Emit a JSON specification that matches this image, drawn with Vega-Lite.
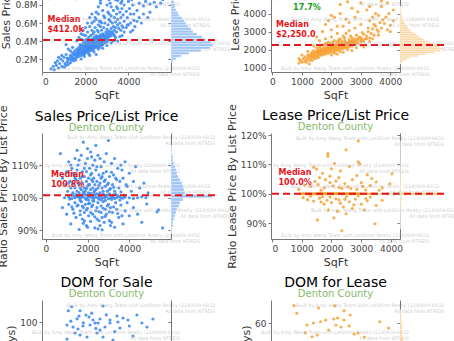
{
"$schema":"https://vega.github.io/schema/vega-lite/v6.json",
"autosize":{"type":"none"},
"padding":{"left":42,"top":-34,"right":412,"bottom":375},
"background":"white",
"config":{"font":"DejaVu Sans","view":{"stroke":null},
"axis":{"labelFont":"DejaVu Sans","labelFontSize":9,"labelColor":"#444","titleFont":"DejaVu Sans","titleFontSize":11,"titleFontWeight":"normal","titleColor":"#333","domainColor":"#777","tickColor":"#777","tickSize":3,"grid":false,"labelPadding":2,"titlePadding":3,"labelOverlap":false,"tickCount":20},
"title":{"font":"DejaVu Sans","fontSize":14,"fontWeight":"normal","color":"#000","subtitleFont":"DejaVu Sans","subtitleFontSize":10,"subtitleColor":"#86b86b","subtitlePadding":-1,"anchor":"middle","frame":"group"}},
"datasets":{
"sale":[{"s":1000,"p":0.11},{"s":1050,"p":0.15},{"s":1100,"p":0.13},{"s":1150,"p":0.17},{"s":1200,"p":0.19},{"s":1200,"p":0.14},{"s":1250,"p":0.21},{"s":1300,"p":0.16},{"s":1300,"p":0.24},{"s":1350,"p":0.19},{"s":1400,"p":0.22},{"s":1400,"p":0.27},{"s":1450,"p":0.18},{"s":1450,"p":0.25},{"s":1500,"p":0.21},{"s":1500,"p":0.29},{"s":1550,"p":0.24},{"s":1550,"p":0.19},{"s":1600,"p":0.27},{"s":1600,"p":0.31},{"s":1600,"p":0.22},{"s":1650,"p":0.25},{"s":1650,"p":0.29},{"s":1700,"p":0.23},{"s":1700,"p":0.27},{"s":1700,"p":0.33},{"s":1750,"p":0.26},{"s":1750,"p":0.3},{"s":1750,"p":0.36},{"s":1800,"p":0.24},{"s":1800,"p":0.28},{"s":1800,"p":0.32},{"s":1850,"p":0.27},{"s":1850,"p":0.31},{"s":1850,"p":0.35},{"s":1900,"p":0.25},{"s":1900,"p":0.29},{"s":1900,"p":0.33},{"s":1900,"p":0.38},{"s":1950,"p":0.28},{"s":1950,"p":0.31},{"s":1950,"p":0.35},{"s":2000,"p":0.27},{"s":2000,"p":0.3},{"s":2000,"p":0.34},{"s":2000,"p":0.39},{"s":2050,"p":0.29},{"s":2050,"p":0.33},{"s":2050,"p":0.37},{"s":2050,"p":0.42},{"s":2100,"p":0.28},{"s":2100,"p":0.31},{"s":2100,"p":0.35},{"s":2100,"p":0.4},{"s":2150,"p":0.3},{"s":2150,"p":0.34},{"s":2150,"p":0.38},{"s":2150,"p":0.44},{"s":2200,"p":0.29},{"s":2200,"p":0.33},{"s":2200,"p":0.36},{"s":2200,"p":0.41},{"s":2250,"p":0.31},{"s":2250,"p":0.35},{"s":2250,"p":0.39},{"s":2250,"p":0.46},{"s":2300,"p":0.3},{"s":2300,"p":0.34},{"s":2300,"p":0.37},{"s":2300,"p":0.42},{"s":2350,"p":0.33},{"s":2350,"p":0.36},{"s":2350,"p":0.4},{"s":2350,"p":0.48},{"s":2400,"p":0.32},{"s":2400,"p":0.35},{"s":2400,"p":0.39},{"s":2400,"p":0.44},{"s":2450,"p":0.34},{"s":2450,"p":0.38},{"s":2450,"p":0.42},{"s":2500,"p":0.33},{"s":2500,"p":0.37},{"s":2500,"p":0.41},{"s":2500,"p":0.46},{"s":2550,"p":0.35},{"s":2550,"p":0.39},{"s":2550,"p":0.44},{"s":2600,"p":0.34},{"s":2600,"p":0.38},{"s":2600,"p":0.42},{"s":2600,"p":0.5},{"s":2650,"p":0.36},{"s":2650,"p":0.4},{"s":2650,"p":0.45},{"s":2700,"p":0.37},{"s":2700,"p":0.41},{"s":2700,"p":0.47},{"s":2750,"p":0.39},{"s":2750,"p":0.43},{"s":2750,"p":0.52},{"s":2800,"p":0.38},{"s":2800,"p":0.42},{"s":2800,"p":0.48},{"s":2850,"p":0.4},{"s":2850,"p":0.45},{"s":2850,"p":0.55},{"s":2900,"p":0.41},{"s":2900,"p":0.47},{"s":2950,"p":0.43},{"s":2950,"p":0.5},{"s":3000,"p":0.42},{"s":3000,"p":0.46},{"s":3000,"p":0.53},{"s":3050,"p":0.44},{"s":3050,"p":0.58},{"s":3100,"p":0.45},{"s":3100,"p":0.51},{"s":3150,"p":0.48},{"s":3150,"p":0.62},{"s":3200,"p":0.46},{"s":3200,"p":0.54},{"s":3250,"p":0.5},{"s":3250,"p":0.6},{"s":3300,"p":0.48},{"s":3300,"p":0.56},{"s":3350,"p":0.52},{"s":3350,"p":0.66},{"s":3400,"p":0.55},{"s":3400,"p":0.61},{"s":3450,"p":0.5},{"s":3450,"p":0.7},{"s":3500,"p":0.58},{"s":3500,"p":0.64},{"s":3550,"p":0.54},{"s":3600,"p":0.6},{"s":3600,"p":0.72},{"s":3650,"p":0.66},{"s":3700,"p":0.57},{"s":3700,"p":0.76},{"s":3750,"p":0.69},{"s":3800,"p":0.62},{"s":3800,"p":0.8},{"s":3900,"p":0.73},{"s":3950,"p":0.66},{"s":4000,"p":0.84},{"s":4050,"p":0.76},{"s":4100,"p":0.7},{"s":4200,"p":0.8},{"s":4250,"p":0.63},{"s":4300,"p":0.88},{"s":4400,"p":0.74},{"s":4500,"p":0.82},{"s":4600,"p":0.95},{"s":4700,"p":0.79},{"s":4800,"p":0.84},{"s":5000,"p":0.81},{"s":5200,"p":0.83},{"s":5100,"p":0.98},{"s":3900,"p":0.92},{"s":3500,"p":0.85},{"s":3200,"p":0.78},{"s":2900,"p":0.66},{"s":2600,"p":0.58},{"s":2300,"p":0.52},{"s":1200,"p":0.31},{"s":900,"p":0.24},{"s":1100,"p":0.36},{"s":2500,"p":0.25},{"s":2800,"p":0.32},{"s":3300,"p":0.4},{"s":3600,"p":0.45},{"s":4200,"p":0.52},{"s":4600,"p":0.6},{"s":1900,"p":0.47},{"s":1600,"p":0.4},{"s":1400,"p":0.33},{"s":2700,"p":0.62},{"s":3100,"p":0.7},{"s":4900,"p":0.66},{"s":3000,"p":0.35},{"s":2200,"p":0.24},{"s":1800,"p":0.2},{"s":1300,"p":0.29},{"s":4100,"p":0.6},{"s":3750,"p":0.55},{"s":2450,"p":0.55},{"s":2150,"p":0.26},{"s":1950,"p":0.23},{"s":1800,"p":0.42},{"s":2000,"p":0.46},{"s":2100,"p":0.5},{"s":2200,"p":0.56},{"s":2300,"p":0.6},{"s":2400,"p":0.5},{"s":2500,"p":0.64},{"s":2600,"p":0.7},{"s":2700,"p":0.56},{"s":2800,"p":0.74},{"s":2900,"p":0.6},{"s":3000,"p":0.8},{"s":3100,"p":0.64},{"s":3200,"p":0.68},{"s":3300,"p":0.74},{"s":3400,"p":0.86},{"s":3500,"p":0.76},{"s":3700,"p":0.84},{"s":3000,"p":0.9},{"s":3300,"p":0.95},{"s":2700,"p":0.85},{"s":4000,"p":0.95},{"s":4400,"p":0.9},{"s":4800,"p":0.98},{"s":3200,"p":0.38},{"s":3400,"p":0.44},{"s":3500,"p":0.4},{"s":3700,"p":0.46},{"s":3800,"p":0.5},{"s":3900,"p":0.55},{"s":4000,"p":0.58},{"s":4100,"p":0.5},{"s":4300,"p":0.56},{"s":4400,"p":0.62},{"s":4500,"p":0.66},{"s":4700,"p":0.7},{"s":5000,"p":0.72},{"s":5300,"p":0.78},{"s":5500,"p":0.82},{"s":3000,"p":0.39},{"s":2800,"p":0.36},{"s":2600,"p":0.31},{"s":2400,"p":0.28},{"s":2900,"p":0.38},{"s":650,"p":0.13},{"s":700,"p":0.18},{"s":750,"p":0.1},{"s":800,"p":0.15},{"s":850,"p":0.2},{"s":900,"p":0.12},{"s":950,"p":0.18},{"s":1000,"p":0.22},{"s":1100,"p":0.25},{"s":1150,"p":0.21},{"s":1800,"p":0.35},{"s":1900,"p":0.41},{"s":2000,"p":0.36},{"s":2100,"p":0.37},{"s":2200,"p":0.38},{"s":2300,"p":0.39},{"s":2400,"p":0.41},{"s":2500,"p":0.43},{"s":2600,"p":0.45},{"s":2700,"p":0.44},{"s":2800,"p":0.46},{"s":2900,"p":0.44},{"s":3000,"p":0.49},{"s":3100,"p":0.48},{"s":3200,"p":0.5},{"s":1700,"p":0.3},{"s":1600,"p":0.25},{"s":1500,"p":0.26},{"s":1400,"p":0.2},{"s":1350,"p":0.23},{"s":2650,"p":0.33},{"s":2350,"p":0.3},{"s":2150,"p":0.32},{"s":1950,"p":0.26},{"s":2750,"p":0.35},{"s":3050,"p":0.41},{"s":3350,"p":0.46},{"s":3650,"p":0.52},{"s":3950,"p":0.58},{"s":4250,"p":0.7},{"s":2400,"p":0.62},{"s":2500,"p":0.72},{"s":2600,"p":0.78},{"s":2700,"p":0.82},{"s":2800,"p":0.88},{"s":2900,"p":0.92},{"s":3100,"p":0.86},{"s":3200,"p":0.92},{"s":3300,"p":0.88},{"s":3400,"p":0.98},{"s":3600,"p":0.95},{"s":3800,"p":0.9},{"s":2200,"p":0.66},{"s":2300,"p":0.7},{"s":2100,"p":0.6},{"s":2000,"p":0.55},{"s":1900,"p":0.52},{"s":1800,"p":0.48},{"s":1700,"p":0.44},{"s":2450,"p":0.66},{"s":2650,"p":0.62},{"s":2850,"p":0.68},{"s":3050,"p":0.72},{"s":2550,"p":0.52},{"s":2750,"p":0.6},{"s":400,"p":0.09},{"s":500,"p":0.12},{"s":600,"p":0.16},{"s":550,"p":0.08},{"s":750,"p":0.22},{"s":3150,"p":0.82},{"s":3450,"p":0.78},{"s":3650,"p":0.82},{"s":4150,"p":0.86},{"s":4450,"p":0.96},{"s":5400,"p":0.9},{"s":5600,"p":0.86},{"s":5000,"p":0.9}],
"lease":[{"s":900,"l":1250},{"s":950,"l":1400},{"s":1000,"l":1300},{"s":1050,"l":1500},{"s":1100,"l":1350},{"s":1100,"l":1600},{"s":1150,"l":1450},{"s":1200,"l":1550},{"s":1200,"l":1700},{"s":1250,"l":1400},{"s":1250,"l":1650},{"s":1300,"l":1500},{"s":1300,"l":1750},{"s":1350,"l":1600},{"s":1350,"l":1850},{"s":1400,"l":1550},{"s":1400,"l":1700},{"s":1400,"l":1950},{"s":1450,"l":1650},{"s":1450,"l":1800},{"s":1500,"l":1600},{"s":1500,"l":1750},{"s":1500,"l":1900},{"s":1500,"l":2100},{"s":1550,"l":1700},{"s":1550,"l":1850},{"s":1550,"l":2000},{"s":1600,"l":1650},{"s":1600,"l":1800},{"s":1600,"l":1950},{"s":1600,"l":2150},{"s":1650,"l":1750},{"s":1650,"l":1900},{"s":1650,"l":2050},{"s":1700,"l":1700},{"s":1700,"l":1850},{"s":1700,"l":2000},{"s":1700,"l":2250},{"s":1750,"l":1800},{"s":1750,"l":1950},{"s":1750,"l":2100},{"s":1800,"l":1750},{"s":1800,"l":1900},{"s":1800,"l":2050},{"s":1800,"l":2300},{"s":1850,"l":1850},{"s":1850,"l":2000},{"s":1850,"l":2150},{"s":1900,"l":1800},{"s":1900,"l":1950},{"s":1900,"l":2100},{"s":1900,"l":2400},{"s":1950,"l":1900},{"s":1950,"l":2050},{"s":1950,"l":2200},{"s":2000,"l":1850},{"s":2000,"l":2000},{"s":2000,"l":2150},{"s":2000,"l":2350},{"s":2050,"l":1950},{"s":2050,"l":2100},{"s":2050,"l":2250},{"s":2100,"l":1900},{"s":2100,"l":2050},{"s":2100,"l":2200},{"s":2100,"l":2500},{"s":2150,"l":2000},{"s":2150,"l":2150},{"s":2150,"l":2300},{"s":2200,"l":1950},{"s":2200,"l":2100},{"s":2200,"l":2250},{"s":2200,"l":2450},{"s":2250,"l":2050},{"s":2250,"l":2200},{"s":2250,"l":2400},{"s":2300,"l":2000},{"s":2300,"l":2150},{"s":2300,"l":2300},{"s":2300,"l":2600},{"s":2350,"l":2100},{"s":2350,"l":2250},{"s":2350,"l":2450},{"s":2400,"l":2050},{"s":2400,"l":2200},{"s":2400,"l":2350},{"s":2400,"l":2750},{"s":2450,"l":2150},{"s":2450,"l":2300},{"s":2450,"l":2500},{"s":2500,"l":2100},{"s":2500,"l":2250},{"s":2500,"l":2400},{"s":2500,"l":2900},{"s":2550,"l":2200},{"s":2550,"l":2350},{"s":2600,"l":2150},{"s":2600,"l":2300},{"s":2600,"l":2550},{"s":2650,"l":2250},{"s":2650,"l":2450},{"s":2700,"l":2200},{"s":2700,"l":2400},{"s":2700,"l":2650},{"s":2750,"l":2350},{"s":2750,"l":2500},{"s":2800,"l":2300},{"s":2800,"l":2600},{"s":2850,"l":2450},{"s":2900,"l":2350},{"s":2900,"l":2550},{"s":2950,"l":2700},{"s":3000,"l":2450},{"s":3000,"l":2650},{"s":3050,"l":2550},{"s":3100,"l":2850},{"s":3150,"l":2600},{"s":3200,"l":2750},{"s":3250,"l":3000},{"s":3300,"l":2650},{"s":3350,"l":2900},{"s":3400,"l":3150},{"s":3450,"l":2800},{"s":3500,"l":3300},{"s":3600,"l":3000},{"s":3650,"l":3500},{"s":3700,"l":3200},{"s":3800,"l":3450},{"s":3850,"l":3800},{"s":3900,"l":3100},{"s":4000,"l":3350},{"s":4100,"l":3600},{"s":3600,"l":3900},{"s":3300,"l":3600},{"s":3000,"l":3400},{"s":2800,"l":3200},{"s":2600,"l":3050},{"s":2400,"l":3300},{"s":2200,"l":2900},{"s":2000,"l":2700},{"s":1800,"l":2600},{"s":1600,"l":2500},{"s":2500,"l":3700},{"s":2900,"l":4100},{"s":3300,"l":4400},{"s":2550,"l":4650},{"s":2100,"l":3800},{"s":1900,"l":3600},{"s":2300,"l":4000},{"s":3700,"l":4700},{"s":3100,"l":4900},{"s":2750,"l":5200},{"s":3500,"l":4000},{"s":3400,"l":3800},{"s":2000,"l":1700},{"s":2200,"l":1750},{"s":2400,"l":1850},{"s":2700,"l":1950},{"s":3100,"l":2150},{"s":1200,"l":1900},{"s":1000,"l":1700},{"s":1400,"l":2200},{"s":3300,"l":2450},{"s":1300,"l":1650},{"s":1400,"l":1800},{"s":1500,"l":1850},{"s":1600,"l":1900},{"s":1700,"l":1950},{"s":1800,"l":2000},{"s":1900,"l":2050},{"s":2000,"l":2100},{"s":2100,"l":2150},{"s":2200,"l":2200},{"s":2300,"l":2250},{"s":2400,"l":2300},{"s":2500,"l":2350},{"s":2600,"l":2400},{"s":2700,"l":2500},{"s":2800,"l":2450},{"s":2900,"l":2600},{"s":3000,"l":2550},{"s":3100,"l":2450},{"s":3200,"l":2600},{"s":1600,"l":1850},{"s":1750,"l":2250},{"s":1850,"l":2350},{"s":2050,"l":2400},{"s":2250,"l":2550},{"s":2450,"l":2650},{"s":2650,"l":2750},{"s":2850,"l":2800},{"s":3050,"l":2950},{"s":3250,"l":3200},{"s":3450,"l":3400},{"s":3550,"l":3100},{"s":3750,"l":3650},{"s":3950,"l":4000},{"s":2000,"l":3100},{"s":2200,"l":3300},{"s":2600,"l":3500},{"s":2800,"l":3800},{"s":3200,"l":4200},{"s":3700,"l":4400},{"s":1700,"l":3000},{"s":1500,"l":2700},{"s":900,"l":1500},{"s":1150,"l":1300},{"s":1250,"l":1200},{"s":1350,"l":1400},{"s":1450,"l":1500},{"s":1550,"l":1550},{"s":2100,"l":1800},{"s":2300,"l":1900},{"s":2550,"l":2000},{"s":2850,"l":2100},{"s":3000,"l":2250},{"s":3400,"l":2600},{"s":3600,"l":2800},{"s":4000,"l":3000},{"s":1800,"l":3400},{"s":2000,"l":3900},{"s":2300,"l":4500},{"s":2700,"l":4300},{"s":3000,"l":4600},{"s":3400,"l":5000},{"s":3900,"l":4600},{"s":4100,"l":4200},{"s":2400,"l":5500},{"s":2900,"l":5800}],
"saleRatio":[{"s":900,"r":100},{"s":1100,"r":100.2},{"s":1250,"r":99.8},{"s":1400,"r":100},{"s":1500,"r":100.5},{"s":1600,"r":99.9},{"s":1700,"r":100},{"s":1800,"r":100.3},{"s":1900,"r":99.7},{"s":2000,"r":100},{"s":2100,"r":100.4},{"s":2200,"r":100},{"s":2300,"r":99.8},{"s":2400,"r":100.2},{"s":2500,"r":100},{"s":2600,"r":100.5},{"s":2700,"r":99.9},{"s":2800,"r":100},{"s":2900,"r":100.3},{"s":3000,"r":99.7},{"s":3100,"r":100},{"s":3200,"r":100.2},{"s":3300,"r":99.8},{"s":3400,"r":100},{"s":3500,"r":100.4},{"s":3600,"r":100},{"s":3700,"r":99.9},{"s":3800,"r":100.2},{"s":4000,"r":100},{"s":4200,"r":99.8},{"s":4400,"r":100},{"s":4600,"r":100.3},{"s":1350,"r":100.6},{"s":1650,"r":100.7},{"s":1950,"r":99.5},{"s":2250,"r":100.7},{"s":2550,"r":99.6},{"s":2850,"r":100.7},{"s":3150,"r":99.5},{"s":3450,"r":100.6},{"s":1150,"r":99.6},{"s":4800,"r":100},{"s":700,"r":113.5},{"s":800,"r":106},{"s":950,"r":104},{"s":1000,"r":108},{"s":1050,"r":102},{"s":1100,"r":111},{"s":1150,"r":105},{"s":1200,"r":103},{"s":1250,"r":109},{"s":1300,"r":104.3},{"s":1300,"r":101.5},{"s":1350,"r":107},{"s":1400,"r":112},{"s":1400,"r":103},{"s":1450,"r":105.5},{"s":1500,"r":102},{"s":1500,"r":108.5},{"s":1550,"r":110},{"s":1600,"r":104},{"s":1600,"r":101.5},{"s":1650,"r":106},{"s":1700,"r":113},{"s":1700,"r":102.5},{"s":1750,"r":108},{"s":1750,"r":104.5},{"s":1800,"r":117},{"s":1800,"r":101.8},{"s":1850,"r":106.5},{"s":1850,"r":103},{"s":1900,"r":110.5},{"s":1900,"r":102},{"s":1950,"r":105},{"s":1950,"r":108},{"s":2000,"r":103.5},{"s":2000,"r":112},{"s":2050,"r":101.5},{"s":2050,"r":106},{"s":2100,"r":104},{"s":2100,"r":109},{"s":2150,"r":102.5},{"s":2150,"r":114},{"s":2200,"r":105.5},{"s":2200,"r":107.5},{"s":2250,"r":103},{"s":2250,"r":110},{"s":2300,"r":101.7},{"s":2300,"r":106},{"s":2350,"r":104},{"s":2350,"r":111.5},{"s":2400,"r":102.5},{"s":2400,"r":108.5},{"s":2450,"r":105},{"s":2500,"r":103},{"s":2500,"r":113},{"s":2550,"r":107},{"s":2600,"r":101.5},{"s":2600,"r":104.5},{"s":2650,"r":109.5},{"s":2700,"r":103},{"s":2700,"r":106.5},{"s":2750,"r":102},{"s":2800,"r":111},{"s":2800,"r":105},{"s":2850,"r":103.5},{"s":2900,"r":108},{"s":2950,"r":102},{"s":3000,"r":117.5},{"s":3000,"r":104.5},{"s":3050,"r":106.5},{"s":3100,"r":102.8},{"s":3150,"r":110.5},{"s":3200,"r":104},{"s":3250,"r":107},{"s":3300,"r":102},{"s":3400,"r":105.5},{"s":3450,"r":109},{"s":3500,"r":103},{"s":3600,"r":101.8},{"s":3700,"r":106},{"s":3800,"r":111},{"s":3900,"r":103.5},{"s":4000,"r":107.5},{"s":4100,"r":102},{"s":4200,"r":105},{"s":4300,"r":109.5},{"s":4500,"r":103},{"s":4700,"r":104.5},{"s":4900,"r":101.5},{"s":800,"r":97},{"s":1000,"r":95},{"s":1100,"r":98},{"s":1200,"r":92},{"s":1300,"r":96.5},{"s":1400,"r":98.5},{"s":1450,"r":94},{"s":1500,"r":97.5},{"s":1600,"r":90.3},{"s":1650,"r":96},{"s":1700,"r":98.8},{"s":1750,"r":93.5},{"s":1800,"r":97},{"s":1850,"r":95.5},{"s":1900,"r":98},{"s":1950,"r":91.5},{"s":2000,"r":96.8},{"s":2050,"r":94.5},{"s":2100,"r":98.3},{"s":2150,"r":92.8},{"s":2200,"r":97.3},{"s":2250,"r":95},{"s":2300,"r":99},{"s":2350,"r":90.8},{"s":2400,"r":96},{"s":2450,"r":93.5},{"s":2500,"r":98.5},{"s":2550,"r":95.8},{"s":2600,"r":91.5},{"s":2650,"r":97.5},{"s":2700,"r":94},{"s":2750,"r":98.8},{"s":2800,"r":92.5},{"s":2850,"r":96.5},{"s":2900,"r":95},{"s":3000,"r":98},{"s":3050,"r":93},{"s":3100,"r":97},{"s":3200,"r":95.5},{"s":3300,"r":91},{"s":3350,"r":98.5},{"s":3400,"r":96.5},{"s":3500,"r":94},{"s":3600,"r":97.8},{"s":3700,"r":92},{"s":3800,"r":96},{"s":3900,"r":98.5},{"s":4000,"r":94.5},{"s":4200,"r":97},{"s":4400,"r":95},{"s":4840,"r":98.1},{"s":5330,"r":95.7},{"s":5400,"r":96.3},{"s":5600,"r":90.8},{"s":4600,"r":92.5},{"s":1550,"r":100.5},{"s":1650,"r":99.2},{"s":1750,"r":100.9},{"s":1850,"r":101.2},{"s":1950,"r":100.8},{"s":2050,"r":99.3},{"s":2150,"r":101.3},{"s":2250,"r":99.1},{"s":2350,"r":100.9},{"s":2450,"r":101.2},{"s":2550,"r":100.9},{"s":2650,"r":99.4},{"s":2750,"r":101.1},{"s":2850,"r":99.2},{"s":2950,"r":100.8},{"s":3050,"r":101.2},{"s":3250,"r":100.9},{"s":3350,"r":101.1},{"s":3550,"r":99.3},{"s":3750,"r":100.8},{"s":1450,"r":101},{"s":1250,"r":100.9},{"s":1550,"r":104.5},{"s":1650,"r":103},{"s":1750,"r":106.5},{"s":1850,"r":109},{"s":1950,"r":102.8},{"s":2050,"r":104},{"s":2150,"r":107},{"s":2250,"r":105},{"s":2350,"r":102.2},{"s":2450,"r":109.5},{"s":2550,"r":103.8},{"s":2650,"r":106},{"s":2750,"r":107.5},{"s":2850,"r":105.5},{"s":2950,"r":104},{"s":3050,"r":102.5},{"s":3150,"r":107.8},{"s":3250,"r":103.2},{"s":3350,"r":106},{"s":3550,"r":105},{"s":3650,"r":108.5},{"s":3850,"r":104},{"s":1400,"r":106},{"s":1300,"r":107.5},{"s":1200,"r":110},{"s":1100,"r":104.5},{"s":1600,"r":111.5},{"s":2000,"r":115},{"s":2400,"r":116},{"s":2200,"r":112.5},{"s":2600,"r":112},{"s":2900,"r":113.5},{"s":3300,"r":112},{"s":1500,"r":114.5},{"s":3600,"r":110},{"s":1550,"r":97.8},{"s":1650,"r":94.8},{"s":1750,"r":97.5},{"s":1850,"r":93},{"s":1950,"r":96.3},{"s":2050,"r":98.2},{"s":2150,"r":95.5},{"s":2250,"r":97.8},{"s":2350,"r":94.2},{"s":2450,"r":97},{"s":2550,"r":93},{"s":2650,"r":95.5},{"s":2750,"r":96.8},{"s":2850,"r":94.3},{"s":2950,"r":97.5},{"s":3050,"r":95.7},{"s":3150,"r":92.5},{"s":3250,"r":97.2},{"s":3450,"r":95.2},{"s":3650,"r":94.5},{"s":1350,"r":95.3},{"s":1250,"r":97.2},{"s":2000,"r":91},{"s":2700,"r":90.2},{"s":3100,"r":91.5},{"s":1800,"r":92.2},{"s":2500,"r":90.5}],
"leaseRatio":[{"s":950,"r":100},{"s":1050,"r":100},{"s":1150,"r":100},{"s":1250,"r":100},{"s":1300,"r":100},{"s":1400,"r":100},{"s":1450,"r":100},{"s":1500,"r":100},{"s":1550,"r":100},{"s":1600,"r":100},{"s":1650,"r":100},{"s":1700,"r":100},{"s":1750,"r":100},{"s":1800,"r":100},{"s":1850,"r":100},{"s":1900,"r":100},{"s":1950,"r":100},{"s":2000,"r":100},{"s":2050,"r":100},{"s":2100,"r":100},{"s":2150,"r":100},{"s":2200,"r":100},{"s":2250,"r":100},{"s":2300,"r":100},{"s":2350,"r":100},{"s":2400,"r":100},{"s":2450,"r":100},{"s":2500,"r":100},{"s":2550,"r":100},{"s":2600,"r":100},{"s":2650,"r":100},{"s":2700,"r":100},{"s":2750,"r":100},{"s":2800,"r":100},{"s":2850,"r":100},{"s":2900,"r":100},{"s":2950,"r":100},{"s":3000,"r":100},{"s":3100,"r":100},{"s":3200,"r":100},{"s":3300,"r":100},{"s":3400,"r":100},{"s":3500,"r":100},{"s":3700,"r":100},{"s":3900,"r":100},{"s":4100,"r":100},{"s":4240,"r":100},{"s":1020,"r":100},{"s":1120,"r":100},{"s":1220,"r":100},{"s":1370,"r":100},{"s":1480,"r":100},{"s":1580,"r":100},{"s":1680,"r":100},{"s":1780,"r":100},{"s":1880,"r":100},{"s":1980,"r":100},{"s":2080,"r":100},{"s":2180,"r":100},{"s":2280,"r":100},{"s":2380,"r":100},{"s":2480,"r":100},{"s":2580,"r":100},{"s":2680,"r":100},{"s":2780,"r":100},{"s":2900,"r":118},{"s":2490,"r":115},{"s":1880,"r":113.7},{"s":1880,"r":112.8},{"s":2900,"r":110.9},{"s":2950,"r":110.2},{"s":1400,"r":109},{"s":1500,"r":108.4},{"s":1700,"r":107},{"s":2000,"r":108.5},{"s":2100,"r":110.3},{"s":2300,"r":107.8},{"s":2600,"r":109.3},{"s":3200,"r":106.5},{"s":4030,"r":106.8},{"s":1600,"r":105.5},{"s":1800,"r":104.8},{"s":1950,"r":106},{"s":2150,"r":104.3},{"s":2250,"r":105.5},{"s":2450,"r":103.5},{"s":2700,"r":104.8},{"s":3000,"r":103.8},{"s":3300,"r":102.8},{"s":3500,"r":104},{"s":3960,"r":103.4},{"s":1300,"r":102.5},{"s":1550,"r":103.2},{"s":1750,"r":102},{"s":2050,"r":102.7},{"s":2350,"r":101.8},{"s":2550,"r":102.3},{"s":2850,"r":101.5},{"s":3150,"r":101.3},{"s":3700,"r":102},{"s":1200,"r":98},{"s":1400,"r":97.5},{"s":1600,"r":98.5},{"s":1750,"r":96.5},{"s":1850,"r":97.8},{"s":2000,"r":97},{"s":2150,"r":98.3},{"s":2300,"r":96.8},{"s":2400,"r":95.5},{"s":2600,"r":97.3},{"s":2800,"r":98.2},{"s":3000,"r":96.5},{"s":3200,"r":97.6},{"s":3500,"r":96},{"s":3700,"r":97.8},{"s":1530,"r":91.1},{"s":2080,"r":91.8},{"s":2490,"r":93.2},{"s":2350,"r":87.4},{"s":3460,"r":89.8},{"s":1900,"r":94.5},{"s":2200,"r":94},{"s":2700,"r":95},{"s":3100,"r":94.5},{"s":1050,"r":98.7},{"s":2500,"r":99},{"s":1300,"r":99.2},{"s":2900,"r":99.3},{"s":3300,"r":98.9},{"s":1700,"r":99},{"s":900,"r":101.5},{"s":1100,"r":103},{"s":3600,"r":101.2},{"s":1650,"r":101.2},{"s":1950,"r":103.8},{"s":2250,"r":102.2},{"s":2650,"r":101.8},{"s":3050,"r":102.5},{"s":1450,"r":104.2},{"s":2850,"r":106.2},{"s":3350,"r":105.2},{"s":1650,"r":97.2},{"s":2250,"r":97.9},{"s":2750,"r":96.2},{"s":3150,"r":98.4},{"s":1950,"r":98.9},{"s":2450,"r":98.1}],
"saleDom":[{"s":1244,"d":119.1},{"s":1081,"d":114.1},{"s":1641,"d":114.1},{"s":2742,"d":120},{"s":1928,"d":108.7},{"s":1593,"d":107.5},{"s":2072,"d":106.2},{"s":2263,"d":102.5},{"s":2359,"d":98.7},{"s":2598,"d":103.7},{"s":3077,"d":102.5},{"s":3411,"d":107.5},{"s":3459,"d":100},{"s":3938,"d":102.5},{"s":4368,"d":108.7},{"s":4608,"d":98.7},{"s":4847,"d":93.7},{"s":5134,"d":103.7},{"s":1019,"d":96.2},{"s":1306,"d":93.7},{"s":1545,"d":91.2},{"s":1785,"d":95},{"s":2120,"d":96.2},{"s":2502,"d":98.7},{"s":2837,"d":93.7},{"s":3077,"d":98.7},{"s":3555,"d":92.5},{"s":4177,"d":82.5},{"s":1641,"d":83.7},{"s":1402,"d":86.2},{"s":1976,"d":81.2},{"s":2455,"d":86.2},{"s":2742,"d":81.2},{"s":3220,"d":77.5},{"s":1019,"d":78.7},{"s":1500,"d":104},{"s":2200,"d":111},{"s":2900,"d":109},{"s":3700,"d":105},{"s":1200,"d":101},{"s":2600,"d":90},{"s":3300,"d":88},{"s":4000,"d":95},{"s":1800,"d":99},{"s":2400,"d":92}],
"leaseDom":[{"s":743,"d":73.2},{"s":836,"d":67.4},{"s":1565,"d":71.4},{"s":2113,"d":73},{"s":2421,"d":69.4},{"s":2627,"d":66.1},{"s":3620,"d":61},{"s":3918,"d":56.2},{"s":1178,"d":58.5},{"s":1394,"d":60},{"s":1634,"d":61},{"s":1805,"d":62.3},{"s":1908,"d":54.7},{"s":2147,"d":58.5},{"s":2318,"d":57},{"s":2592,"d":57.8},{"s":2890,"d":52.4},{"s":3106,"d":49.4},{"s":1120,"d":52.7},{"s":1349,"d":49.6},{"s":1521,"d":50.9},{"s":2079,"d":63.1},{"s":2205,"d":63.8},{"s":2764,"d":51.7},{"s":2421,"d":62.3}],
"hA":[{"a":0.16,"b":0.19,"c":2},{"a":0.19,"b":0.22,"c":5},{"a":0.22,"b":0.25,"c":10},{"a":0.25,"b":0.28,"c":18},{"a":0.28,"b":0.31,"c":30},{"a":0.31,"b":0.34,"c":39},{"a":0.34,"b":0.37,"c":42},{"a":0.37,"b":0.4,"c":40},{"a":0.4,"b":0.43,"c":35},{"a":0.43,"b":0.46,"c":31},{"a":0.46,"b":0.49,"c":26},{"a":0.49,"b":0.52,"c":22},{"a":0.52,"b":0.55,"c":20},{"a":0.55,"b":0.58,"c":17},{"a":0.58,"b":0.61,"c":15},{"a":0.61,"b":0.64,"c":13},{"a":0.64,"b":0.67,"c":11},{"a":0.67,"b":0.7,"c":8},{"a":0.7,"b":0.73,"c":7},{"a":0.73,"b":0.76,"c":5},{"a":0.76,"b":0.79,"c":4},{"a":0.79,"b":0.82,"c":4},{"a":0.82,"b":0.85,"c":3},{"a":0.85,"b":0.88,"c":2},{"a":0.88,"b":0.91,"c":2},{"a":0.91,"b":0.94,"c":1},{"a":0.94,"b":0.97,"c":1}],
"hB":[{"a":1200,"b":1300,"c":1},{"a":1300,"b":1400,"c":3},{"a":1400,"b":1500,"c":6},{"a":1500,"b":1600,"c":10},{"a":1600,"b":1700,"c":18},{"a":1700,"b":1800,"c":26},{"a":1800,"b":1900,"c":35},{"a":1900,"b":2000,"c":40},{"a":2000,"b":2100,"c":42},{"a":2100,"b":2200,"c":40},{"a":2200,"b":2300,"c":36},{"a":2300,"b":2400,"c":31},{"a":2400,"b":2500,"c":27},{"a":2500,"b":2600,"c":24},{"a":2600,"b":2700,"c":21},{"a":2700,"b":2800,"c":18},{"a":2800,"b":2900,"c":16},{"a":2900,"b":3000,"c":13},{"a":3000,"b":3100,"c":11},{"a":3100,"b":3200,"c":9},{"a":3200,"b":3300,"c":8},{"a":3300,"b":3400,"c":6},{"a":3400,"b":3500,"c":5},{"a":3500,"b":3600,"c":4},{"a":3600,"b":3700,"c":3},{"a":3700,"b":3800,"c":3},{"a":3800,"b":3900,"c":2},{"a":3900,"b":4000,"c":2},{"a":4000,"b":4100,"c":1},{"a":4100,"b":4200,"c":1},{"a":4200,"b":4400,"c":1}],
"hC":[{"a":89,"b":90,"c":1},{"a":90,"b":91,"c":1},{"a":91,"b":92,"c":2},{"a":92,"b":93,"c":2},{"a":93,"b":94,"c":3},{"a":94,"b":95,"c":4},{"a":95,"b":96,"c":5},{"a":96,"b":97,"c":6},{"a":97,"b":98,"c":8},{"a":98,"b":99,"c":9},{"a":99,"b":100,"c":12},{"a":100,"b":101,"c":41},{"a":101,"b":102,"c":14},{"a":102,"b":103,"c":13},{"a":103,"b":104,"c":12},{"a":104,"b":105,"c":11},{"a":105,"b":106,"c":9},{"a":106,"b":107,"c":7},{"a":107,"b":108,"c":6},{"a":108,"b":109,"c":5},{"a":109,"b":110,"c":4},{"a":110,"b":111,"c":3},{"a":111,"b":112,"c":2},{"a":112,"b":113,"c":2},{"a":113,"b":114,"c":1},{"a":114,"b":116,"c":1}],
"hD":[{"a":88,"b":93,"c":0.5},{"a":93,"b":96,"c":0.7},{"a":96,"b":97.5,"c":0.9},{"a":97.5,"b":98.5,"c":1.2},{"a":98.5,"b":99.5,"c":1.5},{"a":99.5,"b":100.5,"c":42},{"a":100.5,"b":101.5,"c":1.5},{"a":101.5,"b":102.5,"c":1},{"a":102.5,"b":104,"c":1},{"a":104,"b":106,"c":0.8},{"a":106,"b":110,"c":0.6},{"a":110,"b":118,"c":0.4}],
"hE":[{"a":0,"b":10,"c":38},{"a":10,"b":20,"c":30},{"a":20,"b":30,"c":22},{"a":30,"b":40,"c":16},{"a":40,"b":50,"c":12},{"a":50,"b":60,"c":8},{"a":60,"b":70,"c":4},{"a":70,"b":76,"c":1}],
"hF":[{"a":0,"b":5,"c":40},{"a":5,"b":10,"c":32},{"a":10,"b":15,"c":24},{"a":15,"b":20,"c":18},{"a":20,"b":25,"c":13},{"a":25,"b":30,"c":10},{"a":30,"b":35,"c":7},{"a":35,"b":40,"c":5},{"a":40,"b":45,"c":4},{"a":45,"b":50,"c":3},{"a":50,"b":55,"c":2},{"a":55,"b":60,"c":2},{"a":60,"b":65,"c":1.5},{"a":65,"b":70,"c":0.8}],
"blank":[{"k":0}]
},
"columns":5,
"spacing":{"row":61,"column":0},
"bounds":"flush",
"concat":[
  {"width":129,"height":106,"title":{"text":"Sales Price","subtitle":"Denton County","offset":1},
   "layer":[
    {"data":{"name":"sale"},"mark":{"type":"circle","size":10,"opacity":0.9,"color":"#3d8bf2","clip":true},
     "encoding":{"x":{"field":"s","type":"quantitative","scale":{"domain":[-20,5980],"nice":false,"zero":false},"axis":{"values":[0,2000,4000],"tickCount":20,"format":"d","title":"SqFt","labelOverlap":false}},
      "y":{"field":"p","type":"quantitative","scale":{"domain":[0.056,1.233],"nice":false,"zero":false},"axis":{"values":[0.2,0.4,0.6,0.8,1.0,1.2],"tickCount":20,"labelExpr":"format(datum.value,'.1f')+'M'","title":"Sales Price","labelOverlap":false}}}},
    {"data":{"values":[{"m":0.412}]},"mark":{"type":"rule","color":"#e8141b","strokeWidth":2,"strokeDash":[7,4]},"encoding":{"y":{"field":"m","type":"quantitative"}}},
    {"data":{"values":[{"s":236,"p":0.678,"t":"Median\n$412.0k"}]},"mark":{"type":"text","align":"left","baseline":"top","fontWeight":"bold","fontSize":8,"color":"#e8141b","lineBreak":"\n","lineHeight":10},"encoding":{"x":{"field":"s","type":"quantitative"},"y":{"field":"p","type":"quantitative"},"text":{"field":"t"}}},
    {"data":{"values":[{"x":8027,"y":1.2},{"x":6399,"y":0.9},{"x":7794,"y":0.667},{"x":8724,"y":0.4},{"x":7329,"y":0.123}]},"mark":{"type":"text","align":"right","baseline":"top","fontSize":4.8,"color":"#b0b0b0","opacity":0.6,"lineBreak":"\n","lineHeight":6,"text":"Built by Amy Wang Team with LetShine Realty (214)609-6932\nAll data from NTREIS"},"encoding":{"x":{"field":"x","type":"quantitative"},"y":{"field":"y","type":"quantitative"}}}
   ]},
  {"width":44,"height":106,"layer":[
    {"data":{"name":"hA"},"mark":{"type":"rect","color":"#9fc4f6","stroke":"white","strokeWidth":0.4},
     "encoding":{"x":{"field":"c","type":"quantitative","scale":{"domain":[0,44],"nice":false},"axis":null},"x2":{"datum":0},
      "y":{"field":"a","type":"quantitative","scale":{"domain":[0.056,1.233],"nice":false,"zero":false},"axis":{"labels":false,"title":null,"tickCount":20,"values":[0.2,0.4,0.6,0.8,1.0,1.2]}},"y2":{"field":"b"}}},
    {"data":{"values":[{"m":0.412}]},"mark":{"type":"rule","color":"#e8141b","strokeWidth":2,"strokeDash":[7,4]},"encoding":{"y":{"field":"m","type":"quantitative"}}}
  ]},
  {"width":56,"height":106,"data":{"name":"blank"},"mark":{"type":"point","opacity":0},"encoding":{}},
  {"width":129,"height":106,"title":{"text":"Lease Price","subtitle":"Denton County","offset":1},
   "layer":[
    {"data":{"name":"lease"},"mark":{"type":"circle","size":10,"opacity":0.85,"color":"#f7a133","clip":true},
     "encoding":{"x":{"field":"s","type":"quantitative","scale":{"domain":[-50,4330],"nice":false,"zero":false},"axis":{"values":[0,1000,2000,3000,4000],"tickCount":20,"format":"d","title":"SqFt","labelOverlap":false}},
      "y":{"field":"l","type":"quantitative","scale":{"domain":[755,6644],"nice":false,"zero":false},"axis":{"values":[1000,2000,3000,4000,5000,6000],"tickCount":20,"format":"d","title":"Lease Price","labelOverlap":false}}}},
    {"data":{"values":[{"m":2250}]},"mark":{"type":"rule","color":"#e8141b","strokeWidth":2,"strokeDash":[7,4]},"encoding":{"y":{"field":"m","type":"quantitative"}}},
    {"data":{"values":[{"s":120,"l":3588,"t":"Median\n$2,250.0"}]},"mark":{"type":"text","align":"left","baseline":"top","fontWeight":"bold","fontSize":8,"color":"#e8141b","lineBreak":"\n","lineHeight":10},"encoding":{"x":{"field":"s","type":"quantitative"},"y":{"field":"l","type":"quantitative"},"text":{"field":"t"}}},
    {"data":{"values":[{"s":1172,"l":5090,"t":"YoY Growth\n17.7%"}]},"mark":{"type":"text","align":"center","baseline":"top","fontWeight":"bold","fontSize":8,"color":"#179c17","lineBreak":"\n","lineHeight":10},"encoding":{"x":{"field":"s","type":"quantitative"},"y":{"field":"l","type":"quantitative"},"text":{"field":"t"}}},
    {"data":{"values":[{"x":5824,"y":6477},{"x":4636,"y":4977},{"x":5655,"y":3811},{"x":6334,"y":2477},{"x":5315,"y":1088}]},"mark":{"type":"text","align":"right","baseline":"top","fontSize":4.8,"color":"#b0b0b0","opacity":0.6,"lineBreak":"\n","lineHeight":6,"text":"Built by Amy Wang Team with LetShine Realty (214)609-6932\nAll data from NTREIS"},"encoding":{"x":{"field":"x","type":"quantitative"},"y":{"field":"y","type":"quantitative"}}}
   ]},
  {"width":44,"height":106,"layer":[
    {"data":{"name":"hB"},"mark":{"type":"rect","color":"#fbd39b","stroke":"white","strokeWidth":0.4},
     "encoding":{"x":{"field":"c","type":"quantitative","scale":{"domain":[0,44],"nice":false},"axis":null},"x2":{"datum":0},
      "y":{"field":"a","type":"quantitative","scale":{"domain":[755,6644],"nice":false,"zero":false},"axis":{"labels":false,"title":null,"tickCount":20,"values":[1000,2000,3000,4000,5000,6000]}},"y2":{"field":"b"}}},
    {"data":{"values":[{"m":2250}]},"mark":{"type":"rule","color":"#e8141b","strokeWidth":2,"strokeDash":[7,4]},"encoding":{"y":{"field":"m","type":"quantitative"}}}
  ]},
  {"width":129,"height":106,"title":{"text":"Sales Price/List Price","subtitle":"Denton County","offset":-28},
   "layer":[
    {"data":{"name":"saleRatio"},"mark":{"type":"circle","size":10,"opacity":0.9,"color":"#3d8bf2","clip":true},
     "encoding":{"x":{"field":"s","type":"quantitative","scale":{"domain":[-180,6000],"nice":false,"zero":false},"axis":{"values":[0,2000,4000],"tickCount":20,"format":"d","title":"SqFt","labelOverlap":false}},
      "y":{"field":"r","type":"quantitative","scale":{"domain":[87.4,119.8],"nice":false,"zero":false},"axis":{"values":[90,100,110],"tickCount":20,"labelExpr":"datum.value+'%'","title":"Ratio Sales Price By List Price","labelOverlap":false}}}},
    {"data":{"values":[{"m":100.8}]},"mark":{"type":"rule","color":"#e8141b","strokeWidth":2,"strokeDash":[7,4]},"encoding":{"y":{"field":"m","type":"quantitative"}}},
    {"data":{"values":[{"s":251,"r":108.3,"t":"Median\n100.8%"}]},"mark":{"type":"text","align":"left","baseline":"top","fontWeight":"bold","fontSize":8,"color":"#e8141b","lineBreak":"\n","lineHeight":10},"encoding":{"x":{"field":"s","type":"quantitative"},"y":{"field":"r","type":"quantitative"},"text":{"field":"t"}}},
    {"data":{"values":[{"x":8109,"y":119.08},{"x":6432,"y":110.77},{"x":7870,"y":104.31},{"x":8828,"y":96.92},{"x":7391,"y":89.23}]},"mark":{"type":"text","align":"right","baseline":"top","fontSize":4.8,"color":"#b0b0b0","opacity":0.6,"lineBreak":"\n","lineHeight":6,"text":"Built by Amy Wang Team with LetShine Realty (214)609-6932\nAll data from NTREIS"},"encoding":{"x":{"field":"x","type":"quantitative"},"y":{"field":"y","type":"quantitative"}}}
   ]},
  {"width":44,"height":106,"layer":[
    {"data":{"name":"hC"},"mark":{"type":"rect","color":"#9fc4f6","stroke":"white","strokeWidth":0.4},
     "encoding":{"x":{"field":"c","type":"quantitative","scale":{"domain":[0,44],"nice":false},"axis":null},"x2":{"datum":0},
      "y":{"field":"a","type":"quantitative","scale":{"domain":[87.4,119.8],"nice":false,"zero":false},"axis":{"labels":false,"title":null,"tickCount":20,"values":[90,100,110]}},"y2":{"field":"b"}}},
    {"data":{"values":[{"m":100.8}]},"mark":{"type":"rule","color":"#e8141b","strokeWidth":2,"strokeDash":[7,4]},"encoding":{"y":{"field":"m","type":"quantitative"}}}
  ]},
  {"width":56,"height":106,"data":{"name":"blank"},"mark":{"type":"point","opacity":0},"encoding":{}},
  {"width":129,"height":106,"title":{"text":"Lease Price/List Price","subtitle":"Denton County","offset":-28},
   "layer":[
    {"data":{"name":"leaseRatio"},"mark":{"type":"circle","size":10,"opacity":0.85,"color":"#f7a133","clip":true},
     "encoding":{"x":{"field":"s","type":"quantitative","scale":{"domain":[-30,4300],"nice":false,"zero":false},"axis":{"values":[0,1000,2000,3000,4000],"tickCount":20,"format":"d","title":"SqFt","labelOverlap":false}},
      "y":{"field":"r","type":"quantitative","scale":{"domain":[84.6,120.7],"nice":false,"zero":false},"axis":{"values":[90,100,110,120],"tickCount":20,"labelExpr":"datum.value+'%'","title":"Ratio Lease Price By List Price","labelOverlap":false}}}},
    {"data":{"values":[{"m":100}]},"mark":{"type":"rule","color":"#e8141b","strokeWidth":2,"strokeDash":[7,4]},"encoding":{"y":{"field":"m","type":"quantitative"}}},
    {"data":{"values":[{"s":222,"r":108.4,"t":"Median\n100.0%"}]},"mark":{"type":"text","align":"left","baseline":"top","fontWeight":"bold","fontSize":8,"color":"#e8141b","lineBreak":"\n","lineHeight":10},"encoding":{"x":{"field":"s","type":"quantitative"},"y":{"field":"r","type":"quantitative"},"text":{"field":"t"}}},
    {"data":{"values":[{"x":5777,"y":119.68},{"x":4602,"y":110.48},{"x":5609,"y":103.33},{"x":6281,"y":95.15},{"x":5274,"y":86.64}]},"mark":{"type":"text","align":"right","baseline":"top","fontSize":4.8,"color":"#b0b0b0","opacity":0.6,"lineBreak":"\n","lineHeight":6,"text":"Built by Amy Wang Team with LetShine Realty (214)609-6932\nAll data from NTREIS"},"encoding":{"x":{"field":"x","type":"quantitative"},"y":{"field":"y","type":"quantitative"}}}
   ]},
  {"width":44,"height":106,"layer":[
    {"data":{"name":"hD"},"mark":{"type":"rect","color":"#fbd39b","stroke":"white","strokeWidth":0.4},
     "encoding":{"x":{"field":"c","type":"quantitative","scale":{"domain":[0,44],"nice":false},"axis":null},"x2":{"datum":0},
      "y":{"field":"a","type":"quantitative","scale":{"domain":[84.6,120.7],"nice":false,"zero":false},"axis":{"labels":false,"title":null,"tickCount":20,"values":[90,100,110,120]}},"y2":{"field":"b"}}},
    {"data":{"values":[{"m":100}]},"mark":{"type":"rule","color":"#e8141b","strokeWidth":2,"strokeDash":[7,4]},"encoding":{"y":{"field":"m","type":"quantitative"}}}
  ]},
  {"width":129,"height":116,"title":{"text":"DOM for Sale","subtitle":"Denton County","offset":1},
   "layer":[
    {"data":{"name":"saleDom"},"mark":{"type":"circle","size":10,"opacity":0.9,"color":"#3d8bf2","clip":true},
     "encoding":{"x":{"field":"s","type":"quantitative","scale":{"domain":[-180,6000],"nice":false,"zero":false},"axis":{"values":[0,2000,4000],"tickCount":20,"format":"d","title":"SqFt","labelOverlap":false}},
      "y":{"field":"d","type":"quantitative","scale":{"domain":[-17.5,127.5],"nice":false,"zero":false},"axis":{"values":[0,50,100],"tickCount":20,"title":"DOM (Days)","labelOverlap":false}}}},
    {"data":{"values":[{"x":8109,"y":123.75},{"x":6432,"y":90},{"x":7870,"y":63.75}]},"mark":{"type":"text","align":"right","baseline":"top","fontSize":4.8,"color":"#b0b0b0","opacity":0.6,"lineBreak":"\n","lineHeight":6,"text":"Built by Amy Wang Team with LetShine Realty (214)609-6932\nAll data from NTREIS"},"encoding":{"x":{"field":"x","type":"quantitative"},"y":{"field":"y","type":"quantitative"}}}
   ]},
  {"width":44,"height":116,"layer":[
    {"data":{"name":"hE"},"mark":{"type":"rect","color":"#9fc4f6","stroke":"white","strokeWidth":0.4},
     "encoding":{"x":{"field":"c","type":"quantitative","scale":{"domain":[0,44],"nice":false},"axis":null},"x2":{"datum":0},
      "y":{"field":"a","type":"quantitative","scale":{"domain":[-17.5,127.5],"nice":false,"zero":false},"axis":{"labels":false,"title":null,"tickCount":20,"values":[0,50,100]}},"y2":{"field":"b"}}}
  ]},
  {"width":56,"height":116,"data":{"name":"blank"},"mark":{"type":"point","opacity":0},"encoding":{}},
  {"width":129,"height":116,"title":{"text":"DOM for Lease","subtitle":"Denton County","offset":1},
   "layer":[
    {"data":{"name":"leaseDom"},"mark":{"type":"circle","size":10,"opacity":0.85,"color":"#f7a133","clip":true},
     "encoding":{"x":{"field":"s","type":"quantitative","scale":{"domain":[-30,4300],"nice":false,"zero":false},"axis":{"values":[0,1000,2000,3000,4000],"tickCount":20,"format":"d","title":"SqFt","labelOverlap":false}},
      "y":{"field":"d","type":"quantitative","scale":{"domain":[-10.6,77.5],"nice":false,"zero":false},"axis":{"values":[0,20,40,60],"tickCount":20,"title":"DOM (Days)","labelOverlap":false}}}},
    {"data":{"values":[{"x":5777,"y":75.2},{"x":4602,"y":54.7},{"x":5609,"y":38.8}]},"mark":{"type":"text","align":"right","baseline":"top","fontSize":4.8,"color":"#b0b0b0","opacity":0.6,"lineBreak":"\n","lineHeight":6,"text":"Built by Amy Wang Team with LetShine Realty (214)609-6932\nAll data from NTREIS"},"encoding":{"x":{"field":"x","type":"quantitative"},"y":{"field":"y","type":"quantitative"}}}
   ]},
  {"width":44,"height":116,"layer":[
    {"data":{"name":"hF"},"mark":{"type":"rect","color":"#fbd39b","stroke":"white","strokeWidth":0.4},
     "encoding":{"x":{"field":"c","type":"quantitative","scale":{"domain":[0,44],"nice":false},"axis":null},"x2":{"datum":0},
      "y":{"field":"a","type":"quantitative","scale":{"domain":[-10.6,77.5],"nice":false,"zero":false},"axis":{"labels":false,"title":null,"tickCount":20,"values":[0,20,40,60]}},"y2":{"field":"b"}}}
  ]}
]
}
